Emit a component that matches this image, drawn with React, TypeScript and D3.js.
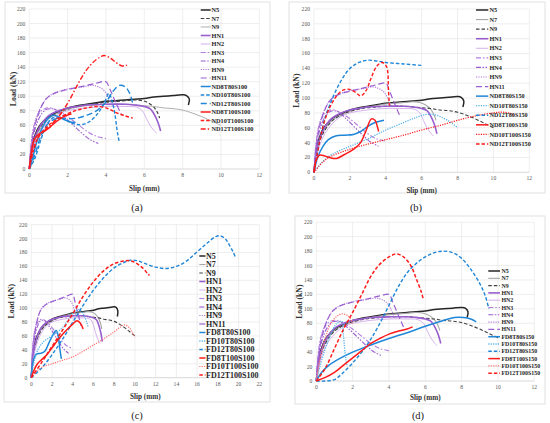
import React from 'react';
import * as d3 from 'd3';

type Pt = [number, number];

// shared reference specimens (slip mm, load kN)
const refN5: Pt[] = [[0, 0], [0.1, 22], [0.2, 38], [0.35, 50], [0.5, 58], [0.75, 66], [1, 72], [1.5, 79], [2, 84], [2.5, 87], [3, 89], [3.5, 91], [4, 93], [4.5, 94], [5, 95], [5.5, 96], [6, 97], [6.5, 99], [7, 100], [7.5, 101], [8, 102], [8.2, 101], [8.35, 96], [8.3, 88]];
const refN7: Pt[] = [[0, 0], [0.15, 25], [0.3, 42], [0.5, 54], [0.75, 63], [1, 70], [1.5, 77], [2, 82], [2.5, 86], [3, 88], [3.5, 90], [4, 92], [4.5, 93], [5, 94], [5.5, 95], [5.9, 94], [6.2, 91], [6.5, 85], [6.7, 77], [6.8, 70]];
const refN9: Pt[] = [[0, 0], [0.15, 22], [0.3, 40], [0.5, 52], [0.75, 62], [1, 69], [1.5, 77], [2, 82], [2.5, 85], [3, 87], [3.5, 88], [4, 89], [5, 89], [6, 87], [6.5, 86], [7, 84], [7.5, 83], [8, 81], [8.5, 77], [9, 72], [9.5, 66], [10, 60]];
const refHN1: Pt[] = [[0, 0], [0.1, 20], [0.25, 40], [0.5, 56], [0.75, 66], [1, 73], [1.5, 80], [2, 84], [2.5, 86], [3, 88], [4, 89], [5, 89], [5.5, 88], [6, 86], [6.3, 83], [6.5, 76], [6.7, 65], [6.8, 57], [6.85, 52]];
const refHN2: Pt[] = [[0, 0], [0.1, 15], [0.3, 35], [0.6, 52], [1, 65], [1.5, 75], [2, 80], [3, 84], [4, 86], [5, 86], [5.6, 85], [5.9, 80], [6.1, 70], [6.3, 60], [6.5, 53], [6.65, 49]];
const refHN3: Pt[] = [[0, 0], [0.1, 35], [0.25, 60], [0.5, 76], [0.8, 83], [1.1, 84], [1.5, 80], [2, 72], [2.5, 62], [3, 52], [3.5, 45], [4, 42]];
const refHN4: Pt[] = [[0, 0], [0.1, 28], [0.3, 55], [0.6, 74], [0.9, 82], [1.3, 82], [1.8, 72], [2.3, 60], [2.8, 48], [3.2, 40], [3.6, 35]];
const refHN9: Pt[] = [[0, 0], [0.1, 35], [0.3, 65], [0.6, 85], [0.9, 97], [1.2, 103], [1.7, 108], [2.2, 111], [2.8, 113], [3.3, 115], [3.6, 113], [3.9, 108], [4.1, 100], [4.3, 88]];
const refHN11: Pt[] = [[0, 0], [0.1, 30], [0.3, 60], [0.6, 84], [0.9, 97], [1.3, 104], [1.8, 108], [2.5, 112], [3, 115], [3.5, 118], [4, 120], [4.2, 110], [4.5, 92], [4.8, 75]];

// (a) ND ... S100
const nd8t80s100: Pt[] = [[0, 0], [0.2, 18], [0.4, 38], [0.7, 58], [1, 70], [1.25, 74], [1.5, 72], [1.8, 68], [2.1, 65], [2.4, 64]];
const nd10t80s100: Pt[] = [[0, 0], [0.3, 15], [0.6, 40], [0.9, 60], [1.2, 70], [1.6, 71], [2, 66], [2.5, 61], [3, 63], [3.5, 74], [3.9, 90], [4.15, 104], [4.3, 95], [4.45, 78], [4.6, 50], [4.7, 36]];
const nd12t80s100: Pt[] = [[0, 0], [0.3, 20], [0.6, 45], [1, 63], [1.5, 70], [2, 69], [2.5, 70], [3, 74], [3.5, 80], [4, 92], [4.4, 108], [4.7, 115], [5, 113], [5.2, 106], [5.35, 95], [5.4, 88]];
const nd8t100s100: Pt[] = [[0, 0], [0.1, 22], [0.25, 40], [0.5, 48], [0.8, 52], [1.1, 58], [1.4, 65], [1.8, 72], [2.2, 76]];
const nd10t100s100: Pt[] = [[0, 0], [0.2, 25], [0.5, 45], [1, 60], [1.5, 69], [2, 76], [2.5, 81], [3, 84], [3.5, 86], [4, 84], [4.5, 78], [5, 73], [5.4, 70]];
const nd12t100s100: Pt[] = [[0, 0], [0.2, 25], [0.5, 45], [0.9, 55], [1.3, 65], [1.7, 78], [2.1, 95], [2.5, 115], [2.9, 133], [3.3, 146], [3.7, 154], [3.9, 156], [4.2, 153], [4.5, 147], [4.8, 142], [5, 142], [5.1, 143]];

// (b) ND ... S150
const nd8t80s150: Pt[] = [[0, 0], [0.2, 20], [0.5, 35], [0.8, 44], [1.2, 49], [1.7, 50], [2.2, 51], [2.6, 55], [3, 62], [3.4, 67], [3.9, 70]];
const nd10t80s150: Pt[] = [[0, 0], [0.5, 15], [1, 24], [2, 35], [3, 45], [4, 57], [5, 67], [5.7, 74], [6.3, 78], [6.8, 77], [7.3, 72], [7.7, 66], [8, 60]];
const nd12t80s150: Pt[] = [[0, 0], [0.3, 40], [0.6, 72], [1, 98], [1.5, 123], [2, 140], [2.5, 148], [3, 151], [3.5, 150], [4, 148], [5, 146], [6, 144]];
const nd8t100s150: Pt[] = [[0, 0], [0.1, 15], [0.3, 23], [0.6, 22], [1, 19], [1.3, 19], [1.7, 24], [2.2, 31], [2.6, 40], [2.9, 56], [3.2, 72], [3.4, 70], [3.55, 60], [3.6, 55]];
const nd10t100s150: Pt[] = [[0, 0], [0.5, 14], [1, 22], [2, 31], [3, 38], [4, 44], [5, 50], [6, 57], [7, 63], [8, 70], [9, 76], [10, 80], [10.5, 81], [11, 79], [11.2, 76]];
const nd12t100s150: Pt[] = [[0, 0], [0.3, 40], [0.6, 70], [1, 93], [1.5, 109], [1.9, 112], [2.3, 108], [2.6, 103], [2.9, 110], [3.2, 128], [3.5, 143], [3.8, 148], [4.05, 142], [4.15, 110], [4.2, 90]];

// (c) FD ... S100
const fd8t80s100: Pt[] = [[0, 0], [0.2, 25], [0.5, 34], [0.9, 35], [1.3, 38], [1.7, 50], [2.1, 62], [2.4, 68], [2.6, 60], [2.75, 42], [2.9, 27]];
const fd10t80s100: Pt[] = [[0, 0], [0.3, 25], [0.7, 42], [1.2, 52], [1.8, 58], [2.4, 64], [3, 72], [3.5, 82], [4, 92], [4.6, 98], [5, 92], [5.3, 82], [5.5, 72]];
const fd12t80s100: Pt[] = [[0, 0], [1, 14], [2, 33], [3, 55], [4, 80], [5, 104], [6, 126], [7, 144], [8, 158], [9, 166], [9.6, 169], [10.3, 168], [11, 164], [12, 159], [13, 157], [14, 160], [15, 168], [16, 181], [17, 194], [17.8, 203], [18.2, 204], [18.7, 200], [19.1, 191], [19.5, 180], [19.7, 173]];
const fd8t100s100: Pt[] = [[0, 0], [0.3, 12], [0.6, 20], [1, 26], [1.5, 33], [2, 43], [2.5, 53], [3, 62], [3.5, 70], [4, 77], [4.4, 82], [4.7, 79], [5, 70]];
const fd10t100s100: Pt[] = [[0, 0], [0.5, 9], [1, 15], [2, 20], [3, 25], [4, 30], [5, 38], [6, 47], [7, 56], [8, 66], [8.6, 73], [9, 76], [9.5, 71], [10, 58]];
const fd12t100s100: Pt[] = [[0, 0], [1, 22], [2, 45], [3, 68], [4, 92], [5, 117], [6, 138], [7, 154], [8, 164], [9, 168], [9.6, 168], [10.2, 164], [10.8, 157], [11.2, 150], [11.4, 147]];

// (d) FD ... S150
const fd8t80s150: Pt[] = [[0, 0], [0.3, 12], [0.7, 22], [1.2, 30], [2, 40], [3, 50], [4, 59], [5, 67], [6, 76], [7, 84], [7.6, 88], [8.1, 88], [8.5, 86], [8.8, 82]];
const fd10t80s150: Pt[] = [[0, 0], [0.2, 20], [0.5, 45], [0.8, 65], [1.1, 79], [1.4, 83], [1.5, 62], [1.6, 35], [1.7, 20]];
const fd12t80s150: Pt[] = [[0, 0], [0.5, 0], [1, 2], [1.5, 12], [2, 25], [2.5, 40], [3, 58], [3.5, 80], [4, 105], [4.5, 130], [5, 150], [5.5, 163], [6, 172], [6.5, 178], [7, 180], [7.5, 178], [8, 170], [8.5, 155], [9, 135], [9.3, 118], [9.5, 100]];
const fd8t100s150: Pt[] = [[0, 0], [0.5, 5], [1, 12], [1.5, 22], [2, 32], [2.5, 42], [3, 52], [3.5, 59], [4, 65], [4.5, 69], [5, 72], [5.3, 75]];
const fd10t100s150: Pt[] = [[0, 0], [0.2, 30], [0.5, 60], [0.8, 80], [1.1, 89], [1.4, 93], [1.7, 91], [1.9, 85], [2, 79]];
const fd12t100s150: Pt[] = [[0, 0], [0.5, 18], [1, 45], [1.5, 72], [2, 95], [2.5, 120], [3, 145], [3.5, 162], [4, 172], [4.4, 176], [4.8, 172], [5.2, 160], [5.5, 142], [5.8, 122], [5.9, 112]];

const yTicks = [0, 20, 40, 60, 80, 100, 120, 140, 160, 180, 200, 220];
const xTicks12 = [0, 2, 4, 6, 8, 10, 12];
const xTicks22 = [0, 2, 4, 6, 8, 10, 12, 14, 16, 18, 20, 22];

// styles
const BLACK = '#262626';
const DGREY = '#404040';
const GREY = '#a6a6a6';
const PURPLE = '#9a5fcf';
const LPURPLE = '#cfa9ea';
const MPURPLE = '#b27ddc';
const BLUE = '#1f86d8';
const LBLUE = '#56b2ea';
const RED = '#ff1a1a';
const PINK = '#ff6f6f';

type Style = { color: string; width: number; dash?: string };
const S = (color: string, width: number, dash?: string): Style => ({ color, width, dash });
const DASH = '3.5,2';
const LDASH = '6,3';
const DOT = '1.2,1.2';
const DASHDOT = '5,2,1.5,2';
const DASHDOTDOT = '5,1.5,1.5,1.5,1.5,1.5';

type Series = { name: string; data: Pt[]; style: Style };

const hnSeries: Series[] = [
  { name: 'HN1', data: refHN1, style: S(PURPLE, 1.6) },
  { name: 'HN2', data: refHN2, style: S(LPURPLE, 0.9) },
  { name: 'HN3', data: refHN3, style: S(MPURPLE, 1.1, DASHDOT) },
  { name: 'HN4', data: refHN4, style: S(PURPLE, 1.1, DASHDOTDOT) },
  { name: 'HN9', data: refHN9, style: S(MPURPLE, 1.2, DOT) },
  { name: 'HN11', data: refHN11, style: S(PURPLE, 1.2, LDASH) },
];

const refA: Series[] = [
  { name: 'N5', data: refN5, style: S(BLACK, 1.5) },
  { name: 'N7', data: refN7, style: S(DGREY, 1.2, DASH) },
  { name: 'N9', data: refN9, style: S(GREY, 0.9) },
  ...hnSeries,
];
const refB: Series[] = [
  { name: 'N5', data: refN5, style: S(BLACK, 1.5) },
  { name: 'N7', data: refN7, style: S(GREY, 1.1) },
  { name: 'N9', data: refN9, style: S(DGREY, 1.1, DASH) },
  ...hnSeries,
];

type Panel = {
  caption: string;
  frame: [number, number, number, number];
  plot: { x0: number; x1: number; y0: number; y1: number };
  xMax: number;
  xTicks: number[];
  legend: { lx0: number; lx1: number; tx: number; y0: number; dy: number; fs: number };
  capPos: [number, number];
  loadX: number;
  slipY: number;
  series: Series[];
};

const panels: Panel[] = [
  {
    caption: '(a)',
    frame: [5, 2, 265, 191],
    plot: { x0: 29.3, x1: 259.3, y0: 169, y1: 9 },
    xMax: 12,
    xTicks: xTicks12,
    legend: { lx0: 200.7, lx1: 210.7, tx: 211.5, y0: 10, dy: 8.5, fs: 6.3 },
    capPos: [137, 211],
    loadX: 13,
    slipY: 188,
    series: [
      ...refA,
      { name: 'ND8T80S100', data: nd8t80s100, style: S(BLUE, 1.5) },
      { name: 'ND10T80S100', data: nd10t80s100, style: S(BLUE, 1.4, DASH) },
      { name: 'ND12T80S100', data: nd12t80s100, style: S(BLUE, 1.4, LDASH) },
      { name: 'ND8T100S100', data: nd8t100s100, style: S(RED, 1.5) },
      { name: 'ND10T100S100', data: nd10t100s100, style: S(RED, 1.4, DASH) },
      { name: 'ND12T100S100', data: nd12t100s100, style: S(RED, 1.4, DASHDOT) },
    ],
  },
  {
    caption: '(b)',
    frame: [289, 2, 256, 191],
    plot: { x0: 314, x1: 529.3, y0: 172.3, y1: 9 },
    xMax: 12,
    xTicks: xTicks12,
    legend: { lx0: 476, lx1: 488.3, tx: 489.5, y0: 10, dy: 9.57, fs: 6.2 },
    capPos: [416, 211],
    loadX: 296,
    slipY: 190,
    series: [
      ...refB,
      { name: 'ND8T80S150', data: nd8t80s150, style: S(BLUE, 1.5) },
      { name: 'ND10T80S150', data: nd10t80s150, style: S(LBLUE, 1.3, DOT) },
      { name: 'ND12T80S150', data: nd12t80s150, style: S(BLUE, 1.4, DASH) },
      { name: 'ND8T100S150', data: nd8t100s150, style: S(RED, 1.5) },
      { name: 'ND10T100S150', data: nd10t100s150, style: S(RED, 1.2, DOT) },
      { name: 'ND12T100S150', data: nd12t100s150, style: S(RED, 1.4, DASH) },
    ],
  },
  {
    caption: '(c)',
    frame: [4, 216, 266, 186],
    plot: { x0: 31.3, x1: 259.3, y0: 377.7, y1: 224.7 },
    xMax: 22,
    xTicks: xTicks22,
    legend: { lx0: 199.3, lx1: 205.5, tx: 206, y0: 256, dy: 8.5, fs: 8 },
    capPos: [137, 419],
    loadX: 11,
    slipY: 396,
    series: [
      ...refB,
      { name: 'FD8T80S100', data: fd8t80s100, style: S(BLUE, 1.5) },
      { name: 'FD10T80S100', data: fd10t80s100, style: S(LBLUE, 1.3, DOT) },
      { name: 'FD12T80S100', data: fd12t80s100, style: S(BLUE, 1.4, DASH) },
      { name: 'FD8T100S100', data: fd8t100s100, style: S(RED, 1.5) },
      { name: 'FD10T100S100', data: fd10t100s100, style: S(PINK, 1.2, DOT) },
      { name: 'FD12T100S100', data: fd12t100s100, style: S(RED, 1.5, DASH) },
    ],
  },
  {
    caption: '(d)',
    frame: [295, 216, 250, 188],
    plot: { x0: 316.3, x1: 534.3, y0: 381, y1: 222.3 },
    xMax: 12,
    xTicks: xTicks12,
    legend: { lx0: 488.3, lx1: 500, tx: 501.5, y0: 271, dy: 7.3, fs: 5.9 },
    capPos: [418, 419],
    loadX: 299,
    slipY: 397,
    series: [
      ...refB,
      { name: 'FD8T80S150', data: fd8t80s150, style: S(BLUE, 1.5) },
      { name: 'FD10T80S150', data: fd10t80s150, style: S(LBLUE, 1.3, DOT) },
      { name: 'FD12T80S150', data: fd12t80s150, style: S(BLUE, 1.4, DASH) },
      { name: 'FD8T100S150', data: fd8t100s150, style: S(RED, 1.5) },
      { name: 'FD10T100S150', data: fd10t100s150, style: S(PINK, 1.2, DOT) },
      { name: 'FD12T100S150', data: fd12t100s150, style: S(RED, 1.5, DASH) },
    ],
  },
];

const SERIF = '"Liberation Serif", "Times New Roman", serif';

const PanelView: React.FC<{ p: Panel }> = ({ p }) => {
  const x = d3.scaleLinear().domain([0, p.xMax]).range([p.plot.x0, p.plot.x1]);
  const y = d3.scaleLinear().domain([0, 220]).range([p.plot.y0, p.plot.y1]);
  const line = d3.line<Pt>().x(d => x(d[0])).y(d => y(d[1])).curve(d3.curveCatmullRom.alpha(0.5));
  const [fx, fy, fw, fh] = p.frame;
  const L = p.legend;
  return (
    <g>
      <rect x={fx} y={fy} width={fw} height={fh} fill="#fff" stroke="#d9d9d9" strokeWidth={0.8} />
      {/* grid */}
      {yTicks.map(t => (
        <line key={'gy' + t} x1={p.plot.x0} x2={p.plot.x1} y1={y(t)} y2={y(t)} stroke={t === 0 ? '#bfbfbf' : '#e3e3e3'} strokeWidth={0.6} />
      ))}
      {p.xTicks.map(t => (
        <line key={'gx' + t} x1={x(t)} x2={x(t)} y1={p.plot.y0} y2={p.plot.y1} stroke="#e3e3e3" strokeWidth={0.6} />
      ))}
      {yTicks.map(t => (
        <text key={'ty' + t} x={p.plot.x0 - 4} y={y(t)} dy="0.35em" textAnchor="end" fontSize={5.6} fill="#595959" fontFamily={SERIF}>{t}</text>
      ))}
      {p.xTicks.map(t => (
        <text key={'tx' + t} x={x(t)} y={p.plot.y0 + 8} textAnchor="middle" fontSize={5.6} fill="#595959" fontFamily={SERIF}>{t}</text>
      ))}
      <text transform={`translate(${p.loadX},${(p.plot.y0 + p.plot.y1) / 2}) rotate(-90)`} textAnchor="middle" dy="0.35em" fontSize={7.8} fontWeight="bold" fill="#333" fontFamily={SERIF}>Load (kN)</text>
      <text x={(p.plot.x0 + p.plot.x1) / 2} y={p.slipY} textAnchor="middle" dy="0.35em" fontSize={7.2} fontWeight="bold" fill="#333" fontFamily={SERIF}>Slip (mm)</text>
      {/* curves */}
      {p.series.map(s => (
        <path key={'c' + s.name} d={line(s.data) || ''} fill="none" stroke={s.style.color} strokeWidth={s.style.width} strokeDasharray={s.style.dash} strokeLinejoin="round" />
      ))}
      {/* legend */}
      {p.series.map((s, i) => (
        <g key={'l' + s.name}>
          <line x1={L.lx0} x2={L.lx1} y1={L.y0 + i * L.dy} y2={L.y0 + i * L.dy} stroke={s.style.color} strokeWidth={s.style.width} strokeDasharray={s.style.dash} />
          <text x={L.tx} y={L.y0 + i * L.dy} dy="0.35em" fontSize={L.fs} fontWeight="bold" fill="#262626" fontFamily={SERIF}>{s.name}</text>
        </g>
      ))}
      <text x={p.capPos[0]} y={p.capPos[1]} textAnchor="middle" fontSize={10.5} fill="#222" fontFamily={SERIF}>{p.caption}</text>
    </g>
  );
};

export default function App() {
  return (
    <svg width={550} height={423} style={{ position: 'absolute', left: 0, top: 0, background: '#fff' }}>
      <rect width={550} height={423} fill="#fff" />
      {panels.map(p => <PanelView key={p.caption} p={p} />)}
    </svg>
  );
}
